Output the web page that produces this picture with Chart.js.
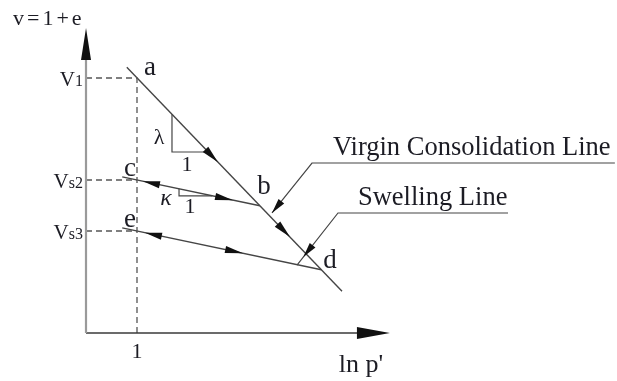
<!DOCTYPE html>
<html>
<head>
<meta charset="utf-8">
<script src="https://cdn.jsdelivr.net/npm/chart.js@4/dist/chart.umd.min.js"></script>
<style>
  html, body { margin: 0; padding: 0; background: #ffffff; }
  #wrap { width: 617px; height: 381px; }
</style>
</head>
<body>
<div id="wrap"><canvas id="c" width="617" height="381"></canvas></div>
<script>
// v = 1 + e against ln p' : virgin consolidation line and two swelling lines
const vclLnP = [0.8, 5.02];
const vclV = [5.21, 0.82];

const swell1LnP = [0.71, 3.41];   // c -> b
const swell1V = [3.06, 2.494];

const swell2LnP = [0.71, 4.614];  // e -> d
const swell2V = [2.06, 1.241];

const vLevels = [5, 3, 2];                       // v1, vs2, vs3
const vLevelLabels = [['V', '1'], ['V', 's2'], ['V', 's3']];
const xTickValues = [1];
const xTickLabels = ['1'];

// slope triangles (lambda on the VCL, kappa on the swelling line)
const lambdaTriLnP = [1.686, 1.686, 2.395];
const lambdaTriV = [4.287, 3.549, 3.549];
const kappaTriLnP = [1.824, 1.824, 2.476];
const kappaTriV = [2.827, 2.69, 2.69];

const axisEndLnP = 5.96;
const axisEndV = 5.98;

const toPts = (xs, ys) => xs.map((x, i) => ({ x: x, y: ys[i] }));

const LINE = '#454545';
const TEXT = '#1c1c24';
const SERIF = '"Liberation Serif", "Times New Roman", serif';

function lineSet(data, color, width, dash) {
  return {
    data: data, showLine: true, pointRadius: 0, pointHoverRadius: 0,
    borderColor: color, borderWidth: width, borderDash: dash || [],
    fill: false, tension: 0
  };
}

const datasets = [
  // axes
  lineSet(toPts([0, 0], [0, axisEndV - 0.5]), '#9a9a9a', 2.2),
  lineSet(toPts([0, axisEndLnP - 0.5], [0, 0]), '#3a3a3a', 1.6),
  // dashed guides
  lineSet(toPts([0, xTickValues[0], xTickValues[0]], [vLevels[0], vLevels[0], 0]), '#555', 1.3, [6, 4]),
  lineSet(toPts([0, xTickValues[0]], [vLevels[1], vLevels[1]]), '#555', 1.3, [6, 4]),
  lineSet(toPts([0, xTickValues[0]], [vLevels[2], vLevels[2]]), '#555', 1.3, [6, 4]),
  // virgin consolidation line and swelling lines
  lineSet(toPts(vclLnP, vclV), LINE, 1.4),
  lineSet(toPts(swell1LnP, swell1V), LINE, 1.4),
  lineSet(toPts(swell2LnP, swell2V), LINE, 1.4),
  // slope triangles
  lineSet(toPts(lambdaTriLnP, lambdaTriV), LINE, 1.2),
  lineSet(toPts(kappaTriLnP, kappaTriV), LINE, 1.2),
  // callout leaders
  lineSet(toPts([3.647, 4.431, 10.37], [2.353, 3.333, 3.333]), LINE, 1.2),
  lineSet(toPts([4.137, 4.941, 8.275], [1.333, 2.353, 2.353]), LINE, 1.2)
];

// arrowheads: tip and a point behind it on the same line
const arrows = [
  { from: [0, 0], tip: [0, axisEndV], len: 32, w: 5 },
  { from: [0, 0], tip: [axisEndLnP, 0], len: 33, w: 6 },
  { from: [vclLnP[0], vclV[0]], tip: [2.588, 3.348], len: 18, w: 3.8 },
  { from: [vclLnP[0], vclV[0]], tip: [4.0, 1.88], len: 18, w: 3.8 },
  { from: [swell1LnP[1], swell1V[1]], tip: [1.118, 2.975], len: 17, w: 3.6 },
  { from: [swell1LnP[0], swell1V[0]], tip: [2.882, 2.605], len: 18, w: 3.6 },
  { from: [swell2LnP[1], swell2V[1]], tip: [1.157, 1.966], len: 17, w: 3.6 },
  { from: [swell2LnP[0], swell2V[0]], tip: [3.078, 1.564], len: 18, w: 3.6 },
  { from: [4.431, 3.333], tip: [3.647, 2.353], len: 15, w: 3.6 },
  { from: [4.941, 2.353], tip: [4.261, 1.49], len: 15, w: 3.6 }
];

// text placed at (ln p', v) positions
const texts = [
  { t: 'a', x: 1.255, y: 5.196, size: 27 },
  { t: 'b', x: 3.49, y: 2.863, size: 27 },
  { t: 'c', x: 0.863, y: 3.216, size: 27 },
  { t: 'e', x: 0.863, y: 2.216, size: 27 },
  { t: 'd', x: 4.784, y: 1.412, size: 27 },
  { t: 'λ', x: 1.431, y: 3.824, size: 22 },
  { t: '1', x: 1.98, y: 3.294, size: 22 },
  { t: 'κ', x: 1.569, y: 2.627, size: 24, italic: true },
  { t: '1', x: 2.039, y: 2.471, size: 22 },
  { t: "ln p'", x: 5.392, y: -0.64, size: 26 }
];

const drawPlugin = {
  id: 'diagramMarks',
  afterDatasetsDraw(chart) {
    const ctx = chart.ctx;
    const sx = chart.scales.x, sy = chart.scales.y;
    const X = v => sx.getPixelForValue(v);
    const Y = v => sy.getPixelForValue(v);
    ctx.save();

    // arrowheads
    ctx.fillStyle = '#111';
    arrows.forEach(a => {
      const tx = X(a.tip[0]), ty = Y(a.tip[1]);
      const fx = X(a.from[0]), fy = Y(a.from[1]);
      const d = Math.hypot(tx - fx, ty - fy);
      const ux = (tx - fx) / d, uy = (ty - fy) / d;
      const bx = tx - ux * a.len, by = ty - uy * a.len;
      ctx.beginPath();
      ctx.moveTo(tx, ty);
      ctx.lineTo(bx - uy * a.w, by + ux * a.w);
      ctx.lineTo(bx + uy * a.w, by - ux * a.w);
      ctx.closePath();
      ctx.fill();
    });

    ctx.fillStyle = TEXT;
    ctx.textBaseline = 'middle';
    ctx.textAlign = 'center';
    texts.forEach(o => {
      ctx.font = (o.italic ? 'italic ' : '') + o.size + 'px ' + SERIF;
      ctx.fillText(o.t, X(o.x), Y(o.y));
    });

    // x tick labels
    ctx.font = '22px ' + SERIF;
    xTickValues.forEach((v, i) => ctx.fillText(xTickLabels[i], X(v), Y(0) + 19));

    // v level labels: large V with a smaller suffix, right-aligned at the axis
    ctx.textBaseline = 'alphabetic';
    ctx.textAlign = 'left';
    vLevels.forEach((v, i) => {
      const [main, sub] = vLevelLabels[i];
      ctx.font = '16px ' + SERIF;
      const ws = ctx.measureText(sub).width;
      ctx.font = '21px ' + SERIF;
      const wm = ctx.measureText(main).width;
      const right = X(0) - 3;
      const base = Y(v) + 8;
      ctx.fillText(main, right - ws - wm, base);
      ctx.font = '16px ' + SERIF;
      ctx.fillText(sub, right - ws, base);
    });

    // axis title
    ctx.font = '22px ' + SERIF;
    ctx.letterSpacing = '3px';
    ctx.textBaseline = 'middle';
    ctx.fillText('v=1+e', 13, Y(6.147));
    ctx.letterSpacing = '0px';

    // callout titles
    ctx.font = '26.5px ' + SERIF;
    ctx.textBaseline = 'alphabetic';
    ctx.fillText('Virgin Consolidation Line', X(4.843), Y(3.49));
    ctx.fillText('Swelling Line', X(5.333), Y(2.5));

    ctx.restore();
  }
};

new Chart(document.getElementById('c'), {
  type: 'scatter',
  data: { datasets: datasets },
  options: {
    responsive: false,
    animation: false,
    devicePixelRatio: 1,
    layout: { padding: 0 },
    scales: {
      x: { type: 'linear', display: false, min: -1.6863, max: 10.4118 },
      y: { type: 'linear', display: false, min: -0.9412, max: 6.5294 }
    },
    plugins: { legend: { display: false }, tooltip: { enabled: false } },
    events: []
  },
  plugins: [drawPlugin]
});
</script>
</body>
</html>
